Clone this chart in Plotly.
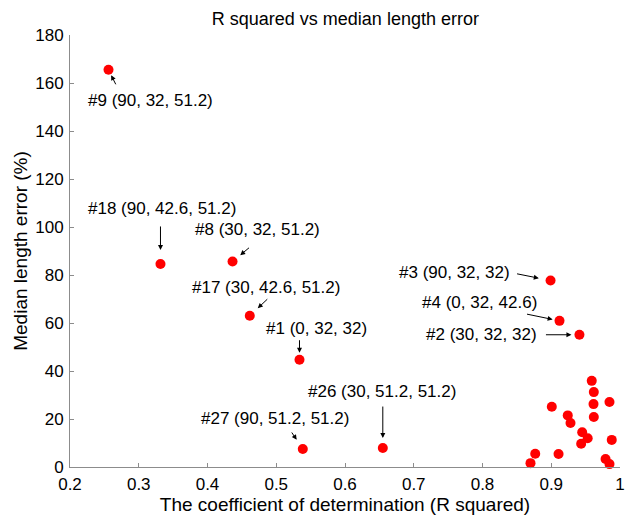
import plotly.graph_objects as go

# Data: R squared vs median length error for 27 configurations
r_squared = [0.256, 0.3316, 0.4364, 0.4615, 0.5338, 0.655, 0.5386, 0.899, 0.912, 0.941,
             0.9589, 0.9619, 0.9615, 0.9847, 0.9008, 0.924, 0.9619, 0.928, 0.945, 0.953,
             0.988, 0.9435, 0.8767, 0.9106, 0.8698, 0.979, 0.9847]
median_error = [165.5, 84.6, 85.6, 63.0, 44.7, 7.9, 7.5, 77.7, 60.9, 55.1,
                35.9, 31.2, 26.2, 27.1, 25.1, 21.5, 20.8, 18.3, 14.5, 12.0,
                11.3, 9.7, 5.5, 5.4, 1.6, 3.3, 1.2]

# Labelled configurations (index into the arrays above)
label_idx = [0, 1, 2, 3, 4, 5, 6, 7, 8, 9]
label_text = ["#9 (90, 32, 51.2)", "#18 (90, 42.6, 51.2)", "#8 (30, 32, 51.2)",
              "#17 (30, 42.6, 51.2)", "#1 (0, 32, 32)", "#26 (30, 51.2, 51.2)",
              "#27 (90, 51.2, 51.2)", "#3 (90, 32, 32)", "#4 (0, 32, 42.6)",
              "#2 (30, 32, 32)"]

x_ticks = [0.2, 0.3, 0.4, 0.5, 0.6, 0.7, 0.8, 0.9, 1.0]
x_tick_labels = ["0.2", "0.3", "0.4", "0.5", "0.6", "0.7", "0.8", "0.9", "1"]
y_ticks = [0, 20, 40, 60, 80, 100, 120, 140, 160, 180]

# Styling: label offsets (px, screen coords) and arrow tails relative to point
label_dx = [42, 2, 25, 16, 17, -1, -28, -96, -80, -98]
label_dy = [31, -55, -32, -28, -31, -57, -31, -8, -18, 0]
arrow_ax = [8, 0, 18, 19, 0, 0, -12, -35, -34, -35]
arrow_ay = [16, -39, -15, -18, -21, -43, -18, -7, -7, 0]
arrow_standoff = [6, 14, 10, 11, 7, 10, 11, 12, 7, 8]

font_family = "Liberation Sans, Arial, sans-serif"
axis_grey = "#8c8c8c"

fig = go.Figure()
fig.add_trace(go.Scatter(
    x=r_squared, y=median_error, mode="markers",
    marker=dict(color="#ff0000", size=10, line=dict(width=0)),
    showlegend=False, cliponaxis=False,
))

annotations = []
for k, i in enumerate(label_idx):
    annotations.append(dict(
        x=r_squared[i], y=median_error[i], xref="x", yref="y",
        text=label_text[k], showarrow=False,
        xshift=label_dx[k], yshift=-label_dy[k],
        font=dict(family=font_family, size=17, color="black"),
        xanchor="center", yanchor="middle",
    ))
    annotations.append(dict(
        x=r_squared[i], y=median_error[i], xref="x", yref="y",
        text="", showarrow=True, arrowhead=2, arrowsize=1, arrowwidth=1,
        arrowcolor="black", ax=arrow_ax[k], ay=arrow_ay[k],
        axref="pixel", ayref="pixel", standoff=arrow_standoff[k],
    ))

fig.update_layout(
    width=625, height=520,
    margin=dict(l=70, r=5, t=35, b=53, autoexpand=False),
    paper_bgcolor="white", plot_bgcolor="white",
    font=dict(family=font_family, size=17, color="black"),
    title=dict(text="R squared vs median length error", x=0.5526, xanchor="center",
               y=1 - 19 / 520, yref="container", yanchor="middle",
               font=dict(size=18, color="black")),
    annotations=annotations,
)
fig.update_xaxes(
    range=[0.2, 1.0], tickvals=x_ticks, ticktext=x_tick_labels, automargin=False,
    showline=True, linecolor=axis_grey, linewidth=1, mirror=False,
    ticks="inside", ticklen=4, tickcolor=axis_grey, showgrid=False, zeroline=False,
    title=dict(text="The coefficient of determination (R squared)", font=dict(size=19), standoff=0),
    tickfont=dict(size=17), ticklabelstandoff=2,
)
fig.update_yaxes(
    range=[0, 180], tickvals=y_ticks, automargin=False,
    showline=True, linecolor=axis_grey, linewidth=1, mirror=False,
    ticks="inside", ticklen=4, tickcolor=axis_grey, showgrid=False, zeroline=False,
    title=dict(text="Median length error (%)", font=dict(size=19), standoff=2),
    tickfont=dict(size=17), ticklabelstandoff=2,
)

fig.write_html("out.html")
